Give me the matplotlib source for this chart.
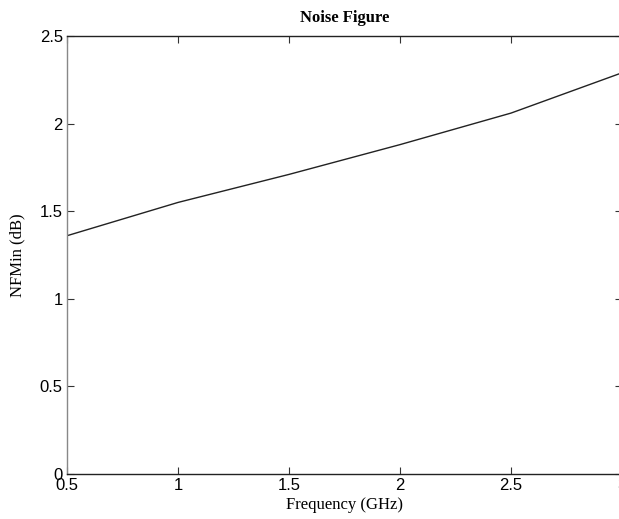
import matplotlib
matplotlib.use('Agg')
import matplotlib.pyplot as plt

# data
freq_ghz = [0.5, 1.0, 1.5, 2.0, 2.5, 3.0]
nf_min_db = [1.36, 1.55, 1.71, 1.88, 2.06, 2.29]

x_ticks = [0.5, 1, 1.5, 2, 2.5, 3]
x_tick_labels = ['0.5', '1', '1.5', '2', '2.5', '3']
y_ticks = [0, 0.5, 1, 1.5, 2, 2.5]
y_tick_labels = ['0', '0.5', '1', '1.5', '2', '2.5']

fig = plt.figure(figsize=(6.19, 5.19), dpi=100)
# axes run slightly past the right edge, like the source screenshot
ax = fig.add_axes([67/619, 45/519, 555/619, 438/519])

ax.plot(freq_ghz, nf_min_db, color='#222222', linewidth=1.0)

ax.set_xlim(0.5, 3)
ax.set_ylim(0, 2.5)
ax.set_xticks(x_ticks)
ax.set_xticklabels(x_tick_labels)
ax.set_yticks(y_ticks)
ax.set_yticklabels(y_tick_labels)

for lbl in ax.get_xticklabels() + ax.get_yticklabels():
    lbl.set_fontfamily('Liberation Sans')
    lbl.set_fontsize(12)

ax.tick_params(direction='in', length=5, width=0.8, top=True, right=True,
               color='#333333', pad=3)

for side in ['top', 'bottom']:
    ax.spines[side].set_color('#222222')
    ax.spines[side].set_linewidth(1.0)
for side in ['left', 'right']:
    ax.spines[side].set_color('#888888')
    ax.spines[side].set_linewidth(1.0)

serif = 'Liberation Serif'
ax.set_title('Noise Figure', fontfamily=serif, fontweight='bold', fontsize=12, pad=10)
ax.set_xlabel('Frequency (GHz)', fontfamily=serif, fontsize=12, labelpad=3)
ax.set_ylabel('NFMin (dB)', fontfamily=serif, fontsize=12, labelpad=10)

fig.savefig('out.png', dpi=100)
